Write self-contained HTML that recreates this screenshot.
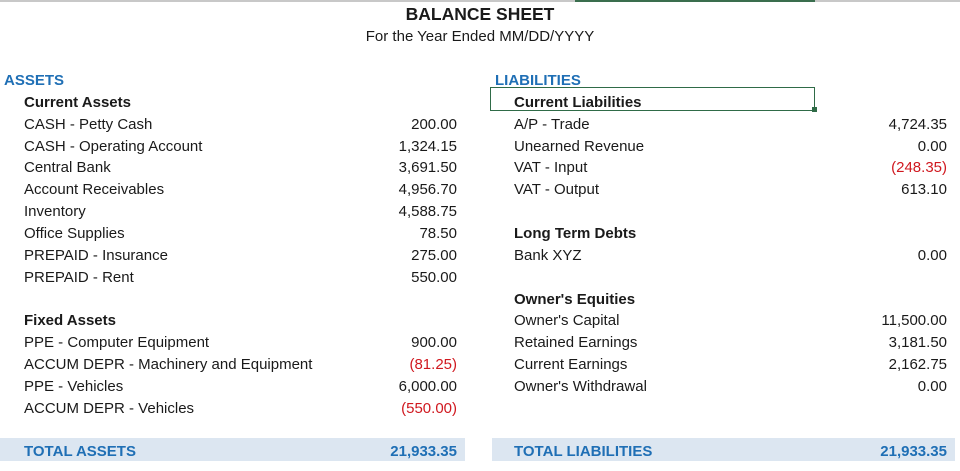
<!DOCTYPE html>
<html><head><meta charset="utf-8"><style>
body{margin:0;width:960px;height:471px;background:#fff;position:relative;overflow:hidden;font-family:"Liberation Sans",sans-serif;font-size:15px;color:#1a1a1a}
.t{position:absolute;white-space:nowrap;line-height:22px;height:22px}
.b{font-weight:bold}
.h{color:#1f6fb5;font-weight:bold}
.r{text-align:right}
.neg{color:#d0181f}
</style></head><body>
<div style="position:absolute;left:0;top:0;width:960px;height:2px;background:#c8c8c8"></div>
<div style="position:absolute;left:575px;top:0;width:240px;height:2px;background:#3a6e4e"></div>
<div class="t b" style="left:0;width:960px;text-align:center;top:3px;font-size:17.5px">BALANCE SHEET</div>
<div class="t" style="left:0;width:960px;text-align:center;top:26px">For the Year Ended MM/DD/YYYY</div>
<div style="position:absolute;left:0;top:438px;width:465px;height:23px;background:#dce6f1"></div>
<div style="position:absolute;left:492px;top:438px;width:463px;height:23px;background:#dce6f1"></div>
<div style="position:absolute;left:490px;top:87px;width:323px;height:22px;border:1.5px solid #2f6b47"></div>
<div style="position:absolute;left:812px;top:107px;width:5px;height:5px;background:#2f6b47"></div>
<div id="c"></div>
<script>
const rows=[
[0,4,"ASSETS","h",null,""],[0,24,"Current Assets","b",null,""],
[1,24,"CASH - Petty Cash","","200.00",""],[2,24,"CASH - Operating Account","","1,324.15",""],
[3,24,"Central Bank","","3,691.50",""],[4,24,"Account Receivables","","4,956.70",""],
[5,24,"Inventory","","4,588.75",""],[6,24,"Office Supplies","","78.50",""],
[7,24,"PREPAID - Insurance","","275.00",""],[8,24,"PREPAID - Rent","","550.00",""],
[10,24,"Fixed Assets","b",null,""],[11,24,"PPE - Computer Equipment","","900.00",""],
[12,24,"ACCUM DEPR - Machinery and Equipment","","(81.25)","neg"],[13,24,"PPE - Vehicles","","6,000.00",""],
[14,24,"ACCUM DEPR - Vehicles","","(550.00)","neg"],[16,24,"TOTAL ASSETS","h","21,933.35","h"]
];
const rrows=[
[0,495,"LIABILITIES","h",null,""],[0,514,"Current Liabilities","b",null,""],
[1,514,"A/P - Trade","","4,724.35",""],[2,514,"Unearned Revenue","","0.00",""],
[3,514,"VAT - Input","","(248.35)","neg"],[4,514,"VAT - Output","","613.10",""],
[6,514,"Long Term Debts","b",null,""],[7,514,"Bank XYZ","","0.00",""],
[9,514,"Owner's Equities","b",null,""],[10,514,"Owner's Capital","","11,500.00",""],
[11,514,"Retained Earnings","","3,181.50",""],[12,514,"Current Earnings","","2,162.75",""],
[13,514,"Owner's Withdrawal","","0.00",""],[16,514,"TOTAL LIABILITIES","h","21,933.35","h"]
];
const c=document.getElementById('c');
function add(list,valRight){
list.forEach((r,i)=>{
 let k=r[0]+1; if(r[2]==="ASSETS"||r[2]==="LIABILITIES")k=0;
 const top=70+k*21.85;
 const d=document.createElement('div');d.className='t '+r[3];d.style.left=r[1]+'px';d.style.top=top+'px';d.textContent=r[2];
 
 
 c.appendChild(d);
 if(r[4]){const v=document.createElement('div');v.className='t r '+r[5];v.style.left=(valRight-150)+'px';v.style.width='150px';v.style.top=top+'px';v.textContent=r[4];
 
 
 c.appendChild(v);}
});}
add(rows,457);add(rrows,947);
</script>
</body></html>
